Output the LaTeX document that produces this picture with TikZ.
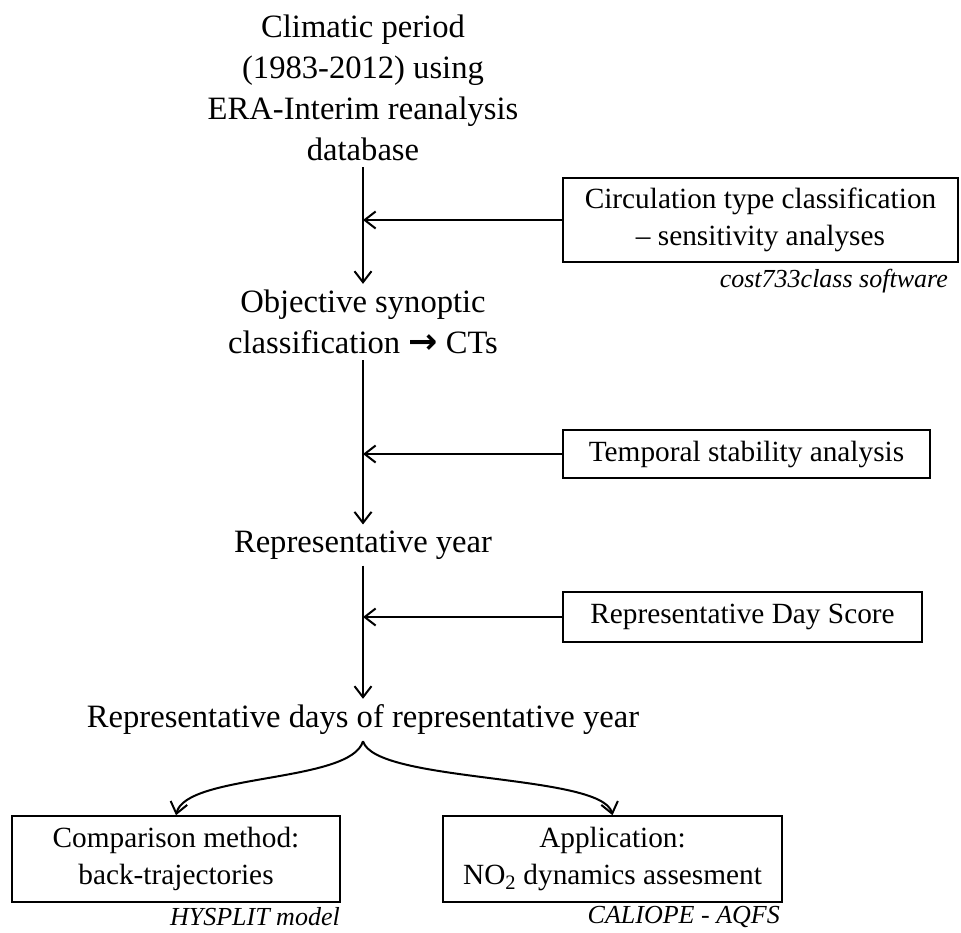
\documentclass[tikz,border=0pt]{standalone}
\usepackage{fontspec}
\setmainfont{Liberation Serif}
\newfontfamily\symfont{DejaVu Sans}
\usepackage{tikz}
\usetikzlibrary{arrows.meta}
\usetikzlibrary{positioning}
\tikzset{maintext/.style = {align=center, inner sep=6pt, font=\fontsize{32.6}{41}\selectfont}}
\tikzset{boxed/.style = {draw, line width=1.5pt, align=center, inner sep=0pt, font=\fontsize{29.3}{37}\selectfont}}
\tikzset{note/.style = {inner sep=0pt, font=\fontsize{26}{31}\selectfont\itshape}}
\tikzset{flow/.style = {line width=2pt, -{Straight Barb[length=11pt, width=17pt, line width=2pt]}}}

\begin{document}
\begin{tikzpicture}[x=1pt, y=-1pt]
        \useasboundingbox (0,0) rectangle (961,932);
        % main column
        \node[maintext] (ClimaticPeriod) at (363,88) {Climatic period\\(1983-2012) using\\ERA-Interim reanalysis\\database};
        \node[maintext] (ObjectiveSynoptic) at (363,322) {Objective synoptic\\classification {\symfont\bfseries\fontsize{35}{41}\selectfont →} CTs};
        \node[maintext] (RepresentativeYear) at (363,545) {Representative year};
        \node[maintext] (RepresentativeDays) at (363,720) {Representative days of representative year};
        % side boxes
        \node[boxed, minimum width=395, minimum height=84] (CirculationType) at (760.5,220) {Circulation type classification\\\textendash{} sensitivity analyses};
        \node[note, anchor=east] (costclass) at (948,281) {cost733class software};
        \node[boxed, minimum width=367, minimum height=48] (TemporalStability) at (746.5,454) {Temporal stability analysis};
        \node[boxed, minimum width=359, minimum height=50] (DayScore) at (742.5,617) {Representative Day Score};
        % bottom boxes
        \node[boxed, minimum width=328, minimum height=86] (ComparisonMethod) at (176,859) {Comparison method:\\back-trajectories};
        \node[note, anchor=east] (HYSPLITmodel) at (340,917) {HYSPLIT model};
        \node[boxed, minimum width=339, minimum height=86] (Application) at (612.5,859) {Application:\\NO\textsubscript{2} dynamics assesment};
        \node[note, anchor=east] (CALIOPEAQFS) at (780,917) {CALIOPE - AQFS};
        % arrows
        \draw[flow] (ClimaticPeriod.south) -- (ObjectiveSynoptic.north);
        \draw[flow] (ObjectiveSynoptic.south) -- (RepresentativeYear.north);
        \draw[flow] (RepresentativeYear.south) -- (RepresentativeDays.north);
        \draw[flow] (CirculationType.west) -- (CirculationType.west -| ClimaticPeriod.south);
        \draw[flow] (TemporalStability.west) -- (TemporalStability.west -| ObjectiveSynoptic.south);
        \draw[flow] (DayScore.west) -- (DayScore.west -| RepresentativeYear.south);
        \draw[flow] (RepresentativeDays.south) .. controls +(-12,42) and +(10,-42) .. (ComparisonMethod.north);
        \draw[flow] (RepresentativeDays.south) .. controls +(12,42) and +(-10,-42) .. (Application.north);
    \end{tikzpicture}
\end{document}
